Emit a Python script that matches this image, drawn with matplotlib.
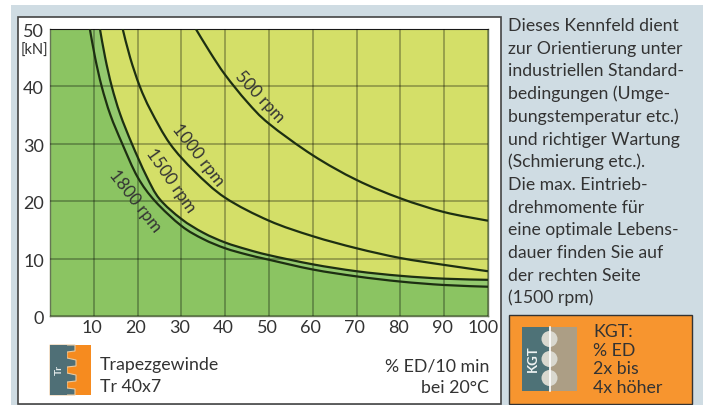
import matplotlib
matplotlib.use("Agg")
import matplotlib.pyplot as plt
from matplotlib.patches import Rectangle, Circle, Polygon, PathPatch
from matplotlib.path import Path

# values: (% ED, kN)
ed_500 = [33.3, 36.5, 40, 45, 50, 60, 70, 80, 90, 100]
kn_500 = [50, 46, 42, 37.3, 33.5, 28, 23.7, 20.5, 18.1, 16.6]
ed_1000 = [16.6, 18.3, 20.5, 23, 27.4, 33, 40, 50, 60, 70, 80, 90, 100]
kn_1000 = [50, 45, 40, 35.8, 30, 25.2, 20.6, 16.6, 13.9, 11.8, 10.1, 8.9, 7.8]
ed_1500 = [11.4, 12.6, 14.1, 16, 18.7, 22, 25, 30, 35, 40, 45, 50, 60, 70, 80, 90, 100]
kn_1500 = [50, 45, 40, 35.2, 30, 24.4, 20.4, 16.9, 14.5, 12.8, 11.6, 10.6, 9.0, 7.8, 7.0, 6.5, 6.3]
ed_1800 = [9.1, 10.3, 11.8, 13.8, 16.5, 20, 24, 30, 35, 40, 45, 50, 60, 70, 80, 90, 100]
kn_1800 = [50, 45, 40, 35, 30, 24.2, 20, 15.7, 13.4, 11.8, 10.7, 9.8, 8.1, 6.9, 6.0, 5.4, 5.1]

xticks = [10, 20, 30, 40, 50, 60, 70, 80, 90, 100]
yticks = [0, 10, 20, 30, 40, 50]

side_text = ["Dieses Kennfeld dient", "zur Orientierung unter", "industriellen Standard-",
             "bedingungen (Umge-", "bungstemperatur etc.)", "und richtiger Wartung",
             "(Schmierung etc.).", "Die max. Eintrieb-", "drehmomente für",
             "eine optimale Lebens-", "dauer finden Sie auf", "der rechten Seite", "(1500 rpm)"]
kgt_text = ["KGT:", "% ED", "2x bis", "4x höher"]

plt.rcParams['font.family'] = ['Lato', 'DejaVu Sans']
W, H = 703, 405
dark = '#333333'
teal = '#4f6f76'


def smooth_path(xs, ys, extra=()):
    # bezier segments through the read points (catmull-rom handles)
    pts = list(zip(xs, ys))
    verts = [pts[0]]
    codes = [Path.MOVETO]
    for i in range(len(pts) - 1):
        p0 = pts[max(i - 1, 0)]
        p1 = pts[i]
        p2 = pts[i + 1]
        p3 = pts[min(i + 2, len(pts) - 1)]
        verts.append((p1[0] + (p2[0] - p0[0]) / 6, p1[1] + (p2[1] - p0[1]) / 6))
        verts.append((p2[0] - (p3[0] - p1[0]) / 6, p2[1] - (p3[1] - p1[1]) / 6))
        verts.append(p2)
        codes += [Path.CURVE4] * 3
    for p in extra:
        verts.append(p)
        codes.append(Path.LINETO)
    return Path(verts, codes)


fig = plt.figure(figsize=(W / 100, H / 100), dpi=100)

# page in pixel coordinates, holds panels, icons and text
bg = fig.add_axes([0, 0, 1, 1], zorder=0)
bg.set_xlim(0, W)
bg.set_ylim(H, 0)
bg.axis('off')
bg.add_patch(Rectangle((11, 5), W - 11, H - 5, fc='#cfdce3', ec='none'))
bg.add_patch(Rectangle((17.5, 17), 483, 386.5, fc='white', ec='#444444', lw=1.2))

# Tr icon
bg.add_patch(Rectangle((50, 345), 41, 50, fc='#f68b1f', ec='none'))
tooth_x = [50, 75, 75, 67, 67, 76, 76, 67, 67, 76, 76, 67, 67, 75, 75, 50]
tooth_y = [345, 345, 351, 352, 358, 360, 366, 367, 373, 375, 381, 382, 388, 389, 395, 395]
bg.add_patch(Polygon(list(zip(tooth_x, tooth_y)), fc=teal, ec='#e8c9a0', lw=0.8))
bg.add_patch(Rectangle((49.5, 345), 17, 50, fc=teal, ec='none'))
bg.text(59, 370, "Tr", color='#e6ecec', fontsize=7.5, fontweight='bold', rotation=90,
        ha='center', va='center')
bg.text(100, 370, "Trapezgewinde", color=dark, fontsize=12.8)
bg.text(100, 392, "Tr 40x7", color=dark, fontsize=12.8)
bg.text(489, 371, "% ED/10 min", color=dark, fontsize=12.8, ha='right')
bg.text(489, 393, "bei 20°C", color=dark, fontsize=12.8, ha='right')

# side note
for i, line in enumerate(side_text):
    bg.text(508, 31 + i * 22.7, line, color=dark, fontsize=12.7)

# KGT box
bg.add_patch(Rectangle((509, 314.5), 183, 89.5, fc='#f7952f', ec='#333333', lw=1.0))
bg.add_patch(Rectangle((522, 327), 27, 64, fc='#4e7277', ec='none'))
bg.add_patch(Rectangle((549, 327), 28, 64, fc='#ac9e85', ec='none'))
bg.plot([549.5, 549.5], [327, 391], color='white', lw=1.2)
for cy in [339, 359, 378]:
    bg.add_patch(Circle((549.5, cy), 8, fc='#d9d8cf', ec='none'))
bg.text(533, 359, "KGT", color='#eef2f2', fontsize=9.5, fontweight='bold', rotation=90,
        ha='center', va='center')
for i, line in enumerate(kgt_text):
    bg.text(593, 337 + i * 18.6, line, color=dark, fontsize=12.8)

# chart
ax = fig.add_axes([50 / W, (H - 316) / H, 438 / W, 287 / H], zorder=1)
ax.set_xlim(0, 100)
ax.set_ylim(0, 50)
ax.set_facecolor('#8bc462')

# layered fills: band above 1800 rpm, then yellow above 1500 rpm
ax.add_patch(PathPatch(smooth_path(ed_1800, kn_1800, [(100, 50), (ed_1800[0], 50)]),
                       fc='#93c96e', ec='none', zorder=1))
ax.add_patch(PathPatch(smooth_path(ed_1500, kn_1500, [(100, 50), (ed_1500[0], 50)]),
                       fc='#d4df68', ec='none', zorder=1))

ax.set_xticks(xticks)
ax.set_yticks(yticks)
ax.grid(True, color='black', alpha=0.3, lw=1.3)
ax.set_axisbelow(False)

for ed, kn in [(ed_500, kn_500), (ed_1000, kn_1000), (ed_1500, kn_1500), (ed_1800, kn_1800)]:
    ax.add_patch(PathPatch(smooth_path(ed, kn), fc='none', ec='#1d2f12', lw=1.6, zorder=3))

curve_labels = [("500 rpm", 47.9, 38.2, -47), ("1000 rpm", 33.8, 28.0, -52),
                ("1500 rpm", 27.6, 23.5, -55), ("1800 rpm", 19.4, 20.0, -52)]
for name, lx, ly, rot in curve_labels:
    ax.text(lx, ly, name, color=dark, fontsize=12.3, rotation=rot, rotation_mode='anchor',
            ha='center', va='center', zorder=4)

ax.tick_params(length=0, labelbottom=False, labelleft=False)
for v in xticks:
    bg.text(50 + v * 4.38 - (5 if v == 100 else 2), 328, str(v), color=dark, fontsize=13,
            ha='center', va='center')
for v in yticks:
    bg.text(44, 319 - v * 5.74, str(v), color=dark, fontsize=13, ha='right', va='center')
bg.text(34, 51, "[kN]", color=dark, fontsize=10.5, ha='center', va='center')

for side in ['left', 'bottom', 'right']:
    ax.spines[side].set_color('#667755')
    ax.spines[side].set_linewidth(1.0)
ax.spines['top'].set_color('#222222')
ax.spines['top'].set_linewidth(0.8)

fig.savefig("out.png", dpi=100)
